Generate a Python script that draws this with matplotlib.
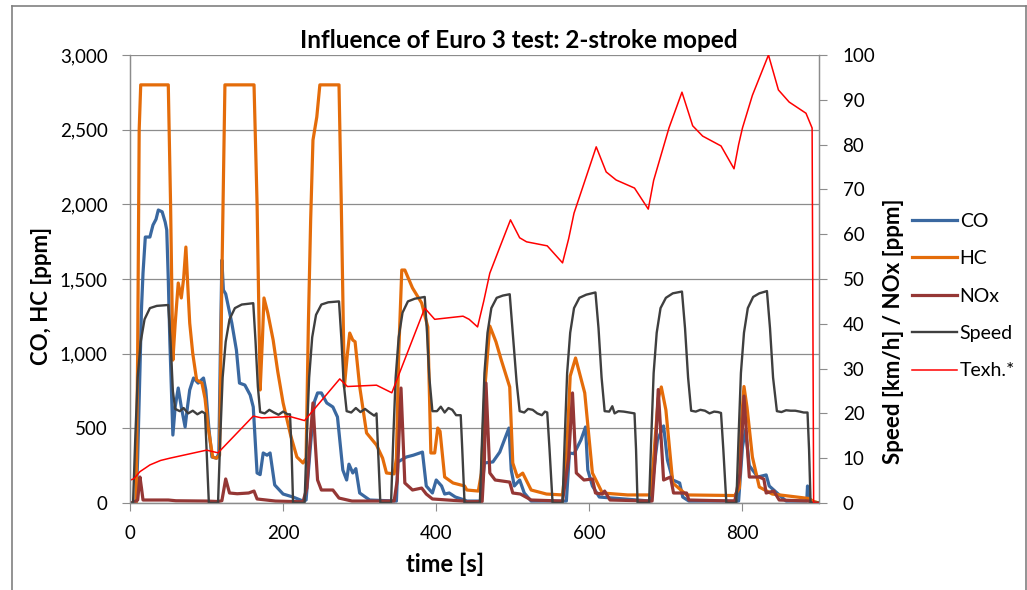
import matplotlib
matplotlib.use("Agg")
import matplotlib.pyplot as plt
from matplotlib.lines import Line2D

plt.rcParams['font.family'] = ['Lato', 'DejaVu Sans']

title = "Influence of Euro 3 test: 2-stroke moped"
xlabel = "time [s]"
ylabel_left = "CO, HC [ppm]"
ylabel_right = "Speed [km/h] / NOx [ppm]"
labels = ["CO", "HC", "NOx", "Speed", "Texh.*"]

co_pts = [(0,0),(8,0),(10,300),(13,890),(15,1300),(17,1540),(20,1781),(26,1781),(30,1861),(34,1900),
          (37,1962),(42,1950),(46,1880),(48,1828),(50,1500),(52,1091),(56,455),(59,643),(63,770),(67,643),
          (72,509),(75,640),(78,757),(83,837),(89,803),(96,837),(99,757),(103,500),(107,308),(113,300),
          (116,330),(118,1000),(120,1627),(122,1426),(125,1400),(133,1205),(139,1024),(143,803),(150,790),
          (157,723),(161,643),(166,201),(170,190),(174,335),(179,320),(183,335),(189,121),(200,60),(213,40),
          (226,13),(230,20),(236,400),(241,680),(245,737),(250,737),(257,670),(265,643),(271,576),(278,221),
          (283,154),(286,260),(291,201),(295,230),(300,67),(313,20),(348,13),(350,275),(361,308),(370,320),
          (382,341),(387,114),(395,67),(400,154),(407,114),(411,60),(417,67),(425,40),(437,20),(440,13),
          (458,13),(463,268),(474,275),(483,341),(489,422),(495,502),(498,221),(502,114),(509,154),(515,67),
          (524,13),(570,13),(574,335),(580,330),(589,422),(595,509),(598,221),(604,114),(613,40),(680,13),
          (686,300),(689,422),(697,516),(702,288),(709,154),(718,134),(722,40),(730,13),(795,13),(800,375),
          (804,488),(809,250),(820,174),(831,188),(835,114),(857,13),(884,13),(885,114),(887,13),(900,0)]

hc_pts = [(0,0),(8,0),(10,1000),(12,2500),(14,2800),(50,2800),(53,2000),(56,957),(59,1200),(63,1473),
          (67,1373),(70,1500),(73,1714),(76,1400),(78,1205),(82,1000),(87,824),(94,803),(98,700),(102,509),
          (108,308),(113,300),(117,320),(120,1500),(124,2800),(162,2800),(166,2000),(170,757),(173,1100),
          (175,1373),(180,1272),(187,1091),(193,880),(200,670),(210,450),(218,308),(226,268),(230,300),
          (233,1200),(236,1900),(239,2430),(244,2585),(248,2800),(273,2800),(276,2000),(280,777),(284,1000),
          (287,1138),(291,1091),(294,1080),(300,780),(309,469),(322,388),(330,300),(335,201),(345,195),
          (348,300),(351,1000),(355,1560),(359,1560),(369,1440),(381,1339),(389,1178),(393,335),(398,335),
          (402,502),(405,480),(411,174),(422,134),(437,114),(440,87),(455,80),(459,200),(464,800),(470,1185),
          (478,1080),(485,957),(496,777),(500,268),(506,174),(513,200),(524,87),(544,60),(565,54),(570,300),
          (575,850),(582,971),(594,737),(604,201),(617,67),(650,54),(680,54),(684,300),(690,700),(694,777),
          (700,623),(709,134),(727,54),(790,50),(796,100),(798,500),(802,780),(806,640),(813,308),(822,107),
          (839,60),(887,30),(893,10),(900,0)]

nox_pts = [(0,0),(5,5),(10,20),(13,174),(15,100),(17,20),(50,20),(60,15),(100,13),(115,10),(120,15),
           (125,161),(130,67),(140,62),(155,67),(162,80),(166,27),(190,13),(226,8),(231,100),(235,400),
           (239,670),(242,400),(245,154),(250,87),(265,87),(273,33),(290,13),(345,13),(349,150),(354,770),
           (359,134),(369,87),(381,100),(387,60),(395,27),(435,13),(440,8),(460,10),(463,300),(465,803),
           (470,201),(477,154),(496,140),(500,67),(510,60),(524,20),(565,13),(573,300),(578,737),(583,201),
           (593,154),(604,161),(608,67),(617,60),(620,80),(627,20),(682,13),(686,300),(690,760),(697,154),
           (706,174),(710,67),(727,67),(730,20),(790,13),(797,200),(802,716),(809,174),(822,174),(828,160),
           (831,67),(841,80),(848,20),(887,13),(890,0),(900,0)]

speed_pts = [(0,0),(4,0),(7,15),(10,28),(14,36),(19,41),(26,43.5),(35,44),(50,44.2),(53,36),(56,25),(59,21),
             (65,20.5),(70,21.2),(76,20),(82,20.6),(88,19.8),(94,20.4),(98,20),(100,12),(103,0),
             (115,0),(118,15),(121,28),(125,36),(130,41),(137,43.5),(146,44.3),(161,44.6),(164,36),(167,26),
             (170,20.3),(176,20),(182,20.8),(188,20.2),(194,19.7),(200,20.4),(206,19.8),(209,19.8),(211,12),(213,0),
             (228,0),(231,15),(234,28),(238,37),(243,42),(250,44.3),(259,44.8),(273,45),(276,37),(279,27),
             (283,20.5),(289,20.2),(295,21.2),(301,20.3),(307,21),(313,20.2),(319,19.5),(322,20),(324,12),(327,0),
             (341,0),(344,15),(347,28),(351,37),(356,42.5),(363,45),(372,45.6),(385,46),(388,38),(391,28),
             (395,20.5),(401,20.5),(406,21.5),(411,20.2),(416,21.2),(421,20.8),(426,19.6),(432,19.6),(434,12),(437,0),
             (457,0),(460,15),(463,29),(467,38),(472,43.5),(479,45.8),(487,46.3),(496,46.6),(500,38),(505,27),
             (509,20.5),(515,20.2),(520,21),(526,20.8),(532,20),(538,19.6),(542,20.4),(545,20.2),(548,12),(552,0),
             (565,0),(568,15),(571,29),(575,38),(580,43.5),(587,45.8),(596,46.5),(608,47),(612,39),(616,28),
             (620,20.5),(626,20.4),(630,21.6),(633,20),(638,20.5),(645,20.4),(652,20.2),(659,20),(661,12),(663,0),
             (678,0),(681,15),(684,29),(688,38),(693,43.5),(700,45.8),(709,46.8),(721,47.2),(725,39),(729,28),
             (733,20.6),(739,20.4),(745,20.8),(751,20.6),(757,20),(763,20.4),(768,20.3),(772,20.1),(775,12),(779,0),
             (792,0),(795,15),(798,29),(802,38),(807,43.5),(814,46),(822,46.8),(832,47.3),(836,39),(840,28),
             (845,20.5),(851,20.3),(857,20.7),(863,20.6),(869,20.6),(875,20.4),(880,20.2),(885,20.2),(887,12),
             (889,0),(900,0)]

texh_pts = [(0,5.1),(5,5.4),(13,7),(20,7.8),(26,8.5),(40,9.5),(52,10),(100,11.8),(115,11.2),(161,19.4),
            (172,19),(209,19.3),(228,18.4),(274,27.7),(284,26),(322,26.3),(342,24.6),(385,43.5),(398,41),
            (435,41.7),(443,41),(454,39.3),(462,45),(470,51.3),(484,57.5),(497,63.2),(509,59.2),(518,58.3),
            (545,57.4),(565,53.6),(573,59),(580,64.7),(591,70.3),(609,79.5),(622,73.9),(635,72.1),(659,70.3),
            (677,65.6),(684,72),(691,76.1),(704,83.7),(721,91.7),(735,84.2),(748,81.9),(772,79.7),(789,74.6),
            (795,80),(800,83.7),(813,91),(834,100),(847,92.2),(861,89.5),(883,87),(891,83.7),(893,0),(900,0)]

colors = {"CO": "#3A68A0", "HC": "#E46C0A", "NOx": "#953735", "Speed": "#3F3F3F", "Texh.*": "#FF0000"}

def split(pts):
    return [p[0] for p in pts], [p[1] for p in pts]

W, H = 1027, 590
fig = plt.figure(figsize=(W/100, H/100), dpi=100)
ax = fig.add_axes([130/W, 1-503/H, (819-130)/W, (503-55)/H])
ax2 = ax.twinx()

h = []
for name, pts in [("CO", co_pts), ("HC", hc_pts), ("NOx", nox_pts)]:
    t, v = split(pts)
    l, = ax.plot(t, v, color=colors[name], lw=2.3, solid_joinstyle='round', label=name)
    h.append(l)
t, v = split(speed_pts)
l, = ax2.plot(t, v, color=colors["Speed"], lw=1.7, label="Speed")
h.append(l)
t, v = split(texh_pts)
l, = ax2.plot(t, v, color=colors["Texh.*"], lw=1.1, label="Texh.*")
h.append(l)

ax.set_xlim(0, 900)
ax.set_ylim(0, 3000)
ax2.set_ylim(0, 100)
ax.set_xticks([0, 200, 400, 600, 800])
ax.set_yticks(range(0, 3001, 500))
ax.set_yticklabels([f"{v:,}" for v in range(0, 3001, 500)])
ax2.set_yticks(range(0, 101, 10))

gray = '#8C8C8C'
ax.grid(axis='y', color=gray, lw=0.9)
ax.set_axisbelow(True)
for a in (ax, ax2):
    a.spines['top'].set_visible(False)
    for s in ('left', 'bottom', 'right'):
        a.spines[s].set_color(gray)
        a.spines[s].set_linewidth(0.9)
ax.tick_params(axis='both', which='both', length=6, color=gray, labelsize=13.5, pad=10)
ax2.tick_params(axis='y', length=6, color=gray, labelsize=13.5, pad=11)

fig.text(519/W, 1-48/H, title, fontsize=17.5, fontweight='bold', ha='center', va='baseline')
fig.text(445/W, 1-572/H, xlabel, fontsize=17, fontweight='bold', ha='center', va='baseline')
fig.text(42/W, 1-296/H, ylabel_left, fontsize=16, fontweight='bold', ha='center', va='center', rotation=90)
fig.text(893/W, 1-331/H, ylabel_right, fontsize=16, fontweight='bold', ha='center', va='center', rotation=90)

fig.legend(h, labels, loc='center left', bbox_to_anchor=(912/W, 1-296/H),
           frameon=False, fontsize=14, handlelength=2.3, handletextpad=0.15,
           labelspacing=1.05, borderpad=0, borderaxespad=0)

border = dict(color='#808080', lw=1.2, transform=fig.transFigure)
fig.add_artist(Line2D([11.5/W, 11.5/W], [0, 1-6/H], **border))
fig.add_artist(Line2D([11.5/W, 1025.5/W], [1-6/H, 1-6/H], **border))
fig.add_artist(Line2D([1025.5/W, 1025.5/W], [0, 1-6/H], **border))

fig.savefig("out.png", dpi=100)
